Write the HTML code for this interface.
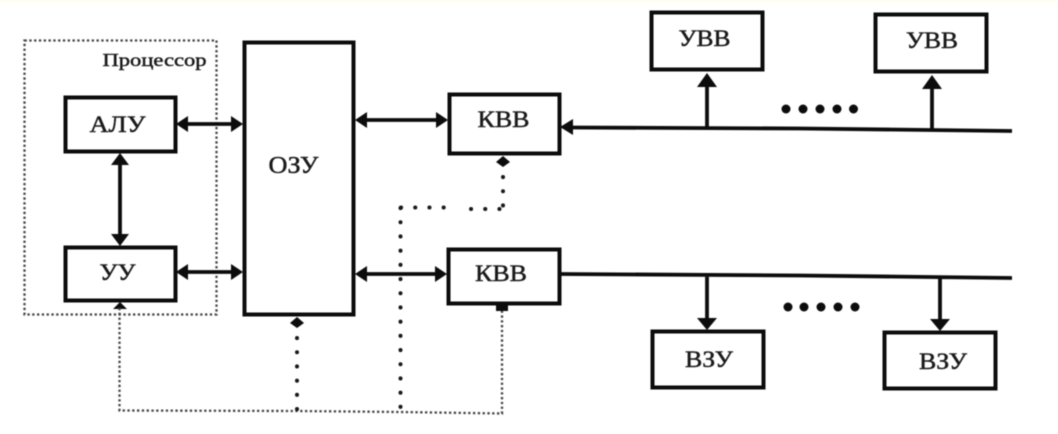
<!DOCTYPE html>
<html lang="ru">
<head>
<meta charset="utf-8">
<style>
html,body{margin:0;padding:0;background:#fff;width:1058px;height:434px;overflow:hidden}
svg{display:block;filter:blur(0.5px)}
text{font-family:"Liberation Serif","Noto Serif CJK SC",serif;fill:#1a1a1a;text-anchor:middle;stroke:#1a1a1a;stroke-width:.45}
.b{fill:#fff;stroke:#0c0c0c;stroke-width:4}
.l{stroke:#0c0c0c;stroke-width:3.800;fill:none}
.a{fill:#0c0c0c;stroke:none}
.d{stroke:#444;stroke-width:2.300;fill:none;stroke-dasharray:2.300 2.500}
.k{stroke:#1a1a1a;stroke-width:4;fill:none;stroke-dasharray:.1 14.100;stroke-linecap:round}
</style>
</head>
<body>
<svg width="1058" height="434" viewBox="0 0 1058 434" xmlns="http://www.w3.org/2000/svg">
<rect width="1058" height="434" fill="#fff"/>
<rect width="1058" height="3" fill="#fffef2"/>

<!-- processor outline -->
<rect class="d" x="24.500" y="40.500" width="192" height="274"/>

<!-- main lines -->
<path class="l" d="M182 124H238M182 272H238M120 160V240M361 120H442M361 274H441M570 127.500L800 128.500L1012 131M560 274L800 275.500L1012 278M707 127V84M932 130V86M707 275V320M940 277V321"/>

<!-- boxes -->
<rect class="b" x="65.500" y="97.500" width="110" height="54"/>
<rect class="b" x="65.500" y="247.500" width="110" height="53"/>
<rect class="b" x="244.500" y="42.500" width="109" height="272"/>
<rect class="b" x="449.500" y="94.500" width="110" height="59"/>
<rect class="b" x="448.500" y="249.500" width="111" height="54"/>
<rect class="b" x="651.500" y="12.500" width="111" height="57"/>
<rect class="b" x="875.500" y="14.500" width="111" height="57"/>
<rect class="b" x="652.500" y="331.500" width="111" height="56"/>
<rect class="b" x="884.500" y="332.500" width="111" height="56"/>

<!-- arrowheads -->
<path class="a" d="M176 124L188 116V132ZM243 124L231 116V132ZM176 272L188 264V280ZM243 272L231 264V280ZM120 153L111 165H129ZM120 246L111 234H129ZM355 120L367 112V128ZM448 120L436 112V128ZM355 274L367 266V282ZM447 274L435 266V282ZM560 127L573 119V135ZM707 73L697 87H717ZM932 75L922 89H942ZM707 330L697 318H717ZM940 331L930 319H950Z"/>
<path class="a" d="M120 302L113 309H127ZM297 317L290 323L297 328L304 323ZM503 156L496 162L503 167L510 162ZM502 305H496V311H508V305Z"/>

<!-- thin dashed control lines -->
<path class="d" d="M119.500 308V410.500L297 411L400 412L502 413.500V311"/>
<!-- bold dotted control lines -->
<path class="k" d="M297 338V412"/>
<path class="k" d="M400.500 208V412"/>
<path class="k" d="M401 207.500H446"/>
<path class="k" d="M471 209H500"/>
<path class="k" d="M503 177V206"/>

<!-- ellipsis dots -->
<g class="a">
<circle cx="786" cy="109" r="4.500"/><circle cx="803" cy="109" r="4.500"/><circle cx="820" cy="109" r="4.500"/><circle cx="837" cy="109" r="4.500"/><circle cx="853.500" cy="109" r="4.500"/>
<circle cx="788" cy="307" r="4.500"/><circle cx="804" cy="307" r="4.500"/><circle cx="821" cy="307" r="4.500"/><circle cx="838" cy="307" r="4.500"/><circle cx="855" cy="307" r="4.500"/>
</g>

<!-- labels -->
<text x="154.500" y="66" font-size="18" textLength="104" lengthAdjust="spacingAndGlyphs">Процессор</text>
<text x="117.500" y="132" font-size="23" textLength="56" lengthAdjust="spacingAndGlyphs">АЛУ</text>
<text x="117.500" y="280" font-size="23" textLength="36" lengthAdjust="spacingAndGlyphs">УУ</text>
<text x="293.500" y="173" font-size="24" textLength="50" lengthAdjust="spacingAndGlyphs">ОЗУ</text>
<text x="503.500" y="127" font-size="23" textLength="52" lengthAdjust="spacingAndGlyphs">КВВ</text>
<text x="501" y="281" font-size="23" textLength="52" lengthAdjust="spacingAndGlyphs">КВВ</text>
<text x="704.500" y="46" font-size="23" textLength="52" lengthAdjust="spacingAndGlyphs">УВВ</text>
<text x="932" y="48" font-size="23" textLength="52" lengthAdjust="spacingAndGlyphs">УВВ</text>
<text x="709" y="367" font-size="23" textLength="48" lengthAdjust="spacingAndGlyphs">ВЗУ</text>
<text x="943" y="369" font-size="23" textLength="48" lengthAdjust="spacingAndGlyphs">ВЗУ</text>
</svg>
</body>
</html>
